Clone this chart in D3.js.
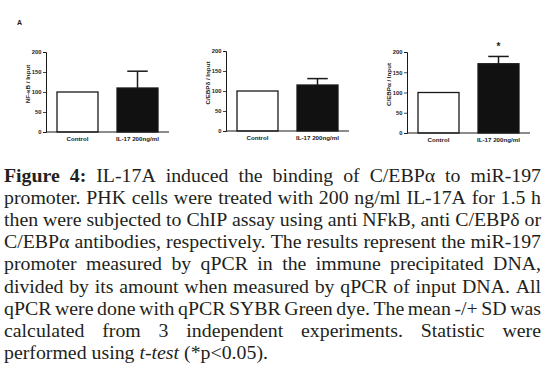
<!DOCTYPE html>
<html><head><meta charset="utf-8">
<script src="https://cdn.jsdelivr.net/npm/d3@7"></script>
<style>html,body{margin:0;padding:0;background:#fff;}svg{display:block;}</style>
</head><body>
<svg id="chart" width="548" height="382"></svg>
<script>
// ---- data ----
const panelLabels = ["NF-\u03BAB / Input", "C/EBP\u03B4 / Input", "C/EBP\u03B1 / Input"];
const categories = ["Control", "IL-17 200ng/ml"];
const nfkbValues = [100, 110];
const nfkbSD = [0, 42];
const cebpdValues = [100, 115];
const cebpdSD = [0, 16];
const cebpaValues = [100, 171];
const cebpaSD = [0, 18];
const sigMarks = [["", ""], ["", ""], ["", "*"]];
const yTicks = [0, 50, 100, 150, 200];
const panelLetter = "A";
const captionLines = [
  "Figure 4: IL-17A induced the binding of C/EBP\u03B1 to miR-197",
  "promoter. PHK cells were treated with 200 ng/ml IL-17A for 1.5 h",
  "then were subjected to ChIP assay using anti NFkB, anti C/EBP\u03B4 or",
  "C/EBP\u03B1 antibodies, respectively. The results represent the miR-197",
  "promoter measured by qPCR in the immune precipitated DNA,",
  "divided by its amount when measured by qPCR of input DNA. All",
  "qPCR were done with qPCR SYBR Green dye. The mean -/+ SD was",
  "calculated from 3 independent experiments. Statistic were",
  "performed using t-test (*p<0.05)."
];
const boldWords = ["Figure", "4:"];
const italicWords = ["t-test"];

const seriesValues = [nfkbValues, cebpdValues, cebpaValues];
const seriesSD = [nfkbSD, cebpdSD, cebpaSD];

// ---- layout ----
const svg = d3.select("#chart");
const ink = "#1a1a1a";
const axisXs = [46, 226, 407];
const yTopPx = [52, 51, 52];
const yBotPx = [132, 131, 133];
const sans = "Arial, 'Liberation Sans', sans-serif";

svg.append("text").attr("x", 17).attr("y", 25).attr("font-family", sans)
  .attr("font-weight", "bold").attr("font-size", 7).attr("fill", ink).text(panelLetter);

panelLabels.forEach((lab, p) => {
  const ax = axisXs[p];
  const g = svg.append("g");
  const y = d3.scaleLinear().domain([0, 200]).range([yBotPx[p], yTopPx[p]]);
  const x = d3.scaleBand().domain(categories).range([ax + 2, ax + 121])
    .paddingInner(0.317).paddingOuter(0.15);

  // bars
  categories.forEach((c, i) => {
    const v = seriesValues[p][i], sd = seriesSD[p][i];
    if (sd > 0) {
      const cx = x(c) + x.bandwidth() / 2;
      g.append("line").attr("x1", cx).attr("x2", cx).attr("y1", y(v)).attr("y2", y(v + sd))
        .attr("stroke", ink).attr("stroke-width", 1.5);
      g.append("line").attr("x1", cx - x.bandwidth() / 4).attr("x2", cx + x.bandwidth() / 4)
        .attr("y1", y(v + sd)).attr("y2", y(v + sd)).attr("stroke", ink).attr("stroke-width", 1.5);
    }
    g.append("rect").attr("x", x(c)).attr("y", y(v)).attr("width", x.bandwidth())
      .attr("height", y(0) - y(v)).attr("fill", i === 0 ? "#fff" : "#111")
      .attr("stroke", ink).attr("stroke-width", 1.3);
    if (sigMarks[p][i]) {
      g.append("text").attr("x", x(c) + x.bandwidth() / 2).attr("y", y(v + sd) - 6)
        .attr("text-anchor", "middle").attr("font-family", sans).attr("font-weight", "bold")
        .attr("font-size", 10).attr("fill", ink).text(sigMarks[p][i]);
    }
    g.append("text").attr("x", x(c) + x.bandwidth() / 2).attr("y", yBotPx[p] + 9)
      .attr("text-anchor", "middle").attr("font-family", sans).attr("font-weight", "bold")
      .attr("font-size", 6.2).attr("fill", ink).text(c);
  });

  // y axis
  const yAxis = d3.axisLeft(y).tickValues(yTicks).tickSize(3).tickPadding(1.5);
  const ya = g.append("g").attr("transform", `translate(${ax},0)`).call(yAxis);
  ya.select(".domain").attr("stroke", ink).attr("stroke-width", 1);
  ya.selectAll(".tick line").attr("stroke", ink).attr("stroke-width", 0.8);
  ya.selectAll(".tick text").attr("font-family", sans).attr("font-weight", "bold")
    .attr("font-size", 5.8).attr("fill", ink);

  // x axis line
  g.append("line").attr("x1", ax).attr("x2", ax + 123).attr("y1", yBotPx[p]).attr("y2", yBotPx[p])
    .attr("stroke", ink).attr("stroke-width", 1);

  // y label
  g.append("text").attr("transform", `translate(${ax - 16},${(yTopPx[p] + yBotPx[p]) / 2 - 8}) rotate(-90)`)
    .attr("text-anchor", "middle").attr("font-family", sans).attr("font-weight", "bold")
    .attr("font-size", 6.2).attr("fill", ink).text(lab);
});

// ---- caption (justified word by word) ----
const capLeft = 4, capRight = 541, capBase0 = 182, capLead = 22.1;
const capFont = "'Liberation Serif', 'Times New Roman', serif";
let fs = 15;
{
  const t = svg.append("text").attr("font-family", capFont).attr("font-size", 15)
    .text(captionLines[captionLines.length - 1]);
  const w = t.node().getComputedTextLength();
  fs = 15 * 264 / w;
  t.remove();
}
const capG = svg.append("g").attr("fill", "#231f20").attr("font-family", capFont).attr("font-size", fs);
let spaceW;
{
  const t = capG.append("text").text("a b");
  const t2 = capG.append("text").text("ab");
  spaceW = t.node().getComputedTextLength() - t2.node().getComputedTextLength();
  t.remove(); t2.remove();
}
captionLines.forEach((line, li) => {
  const words = line.split(" ");
  const yb = capBase0 + li * capLead;
  const nodes = words.map(w => {
    const t = capG.append("text").attr("y", yb).text(w);
    if (boldWords.includes(w) && li === 0) t.attr("font-weight", "bold");
    if (italicWords.includes(w)) t.attr("font-style", "italic");
    return t;
  });
  const widths = nodes.map(n => n.node().getComputedTextLength());
  const total = d3.sum(widths);
  const last = li === captionLines.length - 1;
  const gap = last ? spaceW : (capRight - capLeft - total) / (words.length - 1);
  let cx = capLeft;
  nodes.forEach((n, i) => { n.attr("x", cx); cx += widths[i] + gap; });
});
</script>
</body></html>
